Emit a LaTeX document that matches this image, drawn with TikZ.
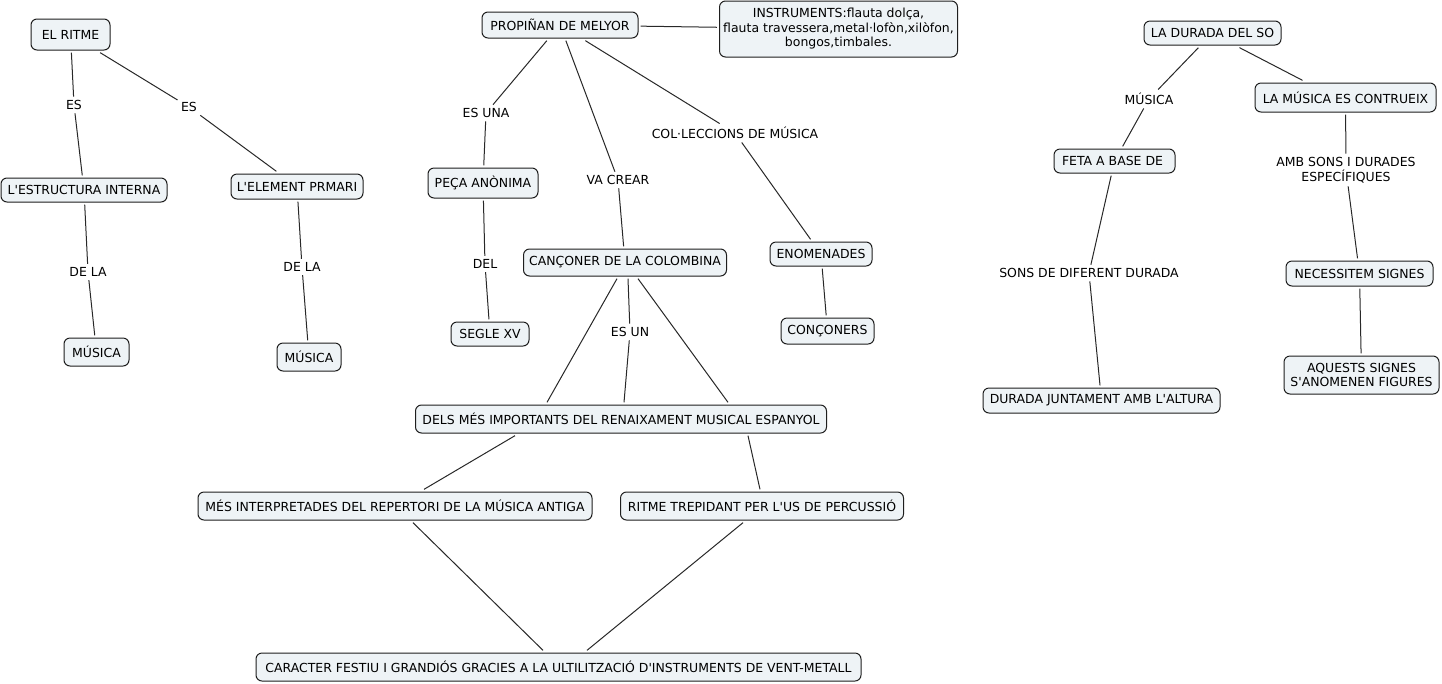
\documentclass[tikz,border=0pt]{standalone}
\usepackage{fontspec}
\setmainfont{DejaVu Sans}[Ligatures=TeXOff]
\usetikzlibrary{calc}
\definecolor{boxfill}{RGB}{238,243,246}
\definecolor{boxdraw}{RGB}{30,30,30}
\definecolor{linecol}{RGB}{40,40,40}
\begin{document}
\begin{tikzpicture}[x=0.75pt,y=-0.75pt,
  txt/.style={font=\fontsize{9.35pt}{10.9pt}\selectfont, align=center},
  box/.style 2 args={txt, draw=boxdraw, fill=boxfill, rounded corners=4.5pt, line width=0.75pt,
    minimum width=#1*0.75pt, minimum height=#2*0.75pt, inner sep=0pt, outer sep=2pt},
  lbl/.style={txt, inner sep=2.5pt},
  ln/.style={draw=linecol, line width=0.75pt}]
\fill[white] (0,0) rectangle (1442,683);
\useasboundingbox (0,0) rectangle (1442,683);

% left cluster
\node[box={79}{31}] (ritme) at (70.5,34.5) {EL RITME};
\node[box={166}{24}] (estr) at (84,190) {L'ESTRUCTURA INTERNA};
\node[box={132}{25}] (elem) at (297,186.5) {L'ELEMENT PRMARI};
\node[box={65}{28}] (mus1) at (96.5,352) {MÚSICA};
\node[box={64}{28}] (mus2) at (309,357) {MÚSICA};
\node[lbl] (es1) at (74,105) {ES};
\node[lbl] (es2) at (189,107) {ES};
\node[lbl] (dela1) at (88,272) {DE LA};
\node[lbl] (dela2) at (302,267) {DE LA};

\draw[ln] (ritme) -- (es1) -- (estr);
\draw[ln] (ritme) -- (es2) -- (elem);
\draw[ln] (estr) -- (dela1) -- (mus1);
\draw[ln] (elem) -- (dela2) -- (mus2);

% middle cluster
\node[box={156}{26}] (prop) at (560,25) {PROPIÑAN DE MELYOR};
\node[box={238}{56}, font=\fontsize{9.35pt}{10.9pt}\selectfont] (instr) at (838.5,29) {INSTRUMENTS:flauta dolça,\\flauta travessera,metal·lofòn,xilòfon,\\bongos,timbales.};
\node[box={110}{30}] (peca) at (483,183) {PEÇA ANÒNIMA};
\node[box={78}{24}] (segle) at (490,334) {SEGLE XV};
\node[box={203}{27}] (canc) at (625,262.5) {CANÇONER DE LA COLOMBINA};
\node[box={102}{24}] (enom) at (821,254) {ENOMENADES};
\node[box={93}{26}] (conc) at (827.5,331) {CONÇONERS};
\node[lbl] (esuna) at (486,113) {ES UNA};
\node[lbl] (vacrear) at (618,180) {VA CREAR};
\node[lbl] (colecc) at (735,133) {COL·LECCIONS DE MÚSICA};
\node[lbl] (del) at (485,264) {DEL};
\node[lbl] (esun) at (630,332) {ES UN};

\node[box={411}{28}] (dels) at (621,419) {DELS MÉS IMPORTANTS DEL RENAIXAMENT MUSICAL ESPANYOL};
\node[box={394}{28}] (mes) at (395,506) {MÉS INTERPRETADES DEL REPERTORI DE LA MÚSICA ANTIGA};
\node[box={283}{28}] (ritme2) at (762,506) {RITME TREPIDANT PER L'US DE PERCUSSIÓ};
\node[box={605}{28}] (car) at (558.5,667) {CARACTER FESTIU I GRANDIÓS GRACIES A LA ULTILITZACIÓ D'INSTRUMENTS DE VENT-METALL};

\draw[ln] (prop) -- (instr);
\draw[ln] (prop) -- (esuna) -- (peca);
\draw[ln] (prop) -- (vacrear) -- (canc);
\draw[ln] (prop) -- (colecc) -- (enom);
\draw[ln] (peca) -- (del) -- (segle);
\draw[ln] (enom) -- (conc);
\draw[ln] ($(canc.south)+(3,0)$) -- (esun) -- ($(dels.north)+(3,0)$);
\draw[ln] ($(canc.south)+(-8,0)$) -- ($(dels.north)+(-74,0)$);
\draw[ln] ($(canc.south)+(13,0)$) -- ($(dels.north)+(107,0)$);
\draw[ln] ($(dels.south)+(-106,0)$) -- ($(mes.north)+(29,0)$);
\draw[ln] ($(dels.south)+(127,0)$) -- ($(ritme2.north)+(-2,0)$);
\draw[ln] ($(mes.south)+(18,0)$) -- ($(car.north)+(-15.5,0)$);
\draw[ln] ($(ritme2.south)+(-19,0)$) -- ($(car.north)+(28.5,0)$);

% right cluster
\node[box={137}{24}] (durada) at (1212.5,33) {LA DURADA DEL SO};
\node[box={181}{29}] (lamus) at (1345.5,97.5) {LA MÚSICA ES CONTRUEIX};
\node[box={121}{24}] (feta) at (1114.5,161) {FETA A BASE DE };
\node[box={147}{25}] (nec) at (1359.5,273.5) {NECESSITEM SIGNES};
\node[box={155}{38}] (aq) at (1361.5,375) {AQUESTS SIGNES\\S'ANOMENEN FIGURES};
\node[box={237}{25}] (dur2) at (1101.5,400.5) {DURADA JUNTAMENT AMB L'ALTURA};
\node[lbl] (musl) at (1149,99) {MÚSICA};
\node[lbl] (amb) at (1346,170) {AMB SONS I DURADES\\ESPECÍFIQUES};
\node[lbl] (sons) at (1089,273) {SONS DE DIFERENT DURADA};

\draw[ln] (durada) -- (musl) -- (feta);
\draw[ln] ($(durada.south)+(27,0)$) -- ($(lamus.north)+(-43,0)$);
\draw[ln] (lamus) -- (amb) -- (nec);
\draw[ln] (nec) -- (aq);
\draw[ln] (feta) -- (sons) -- (dur2);
\end{tikzpicture}
\end{document}
